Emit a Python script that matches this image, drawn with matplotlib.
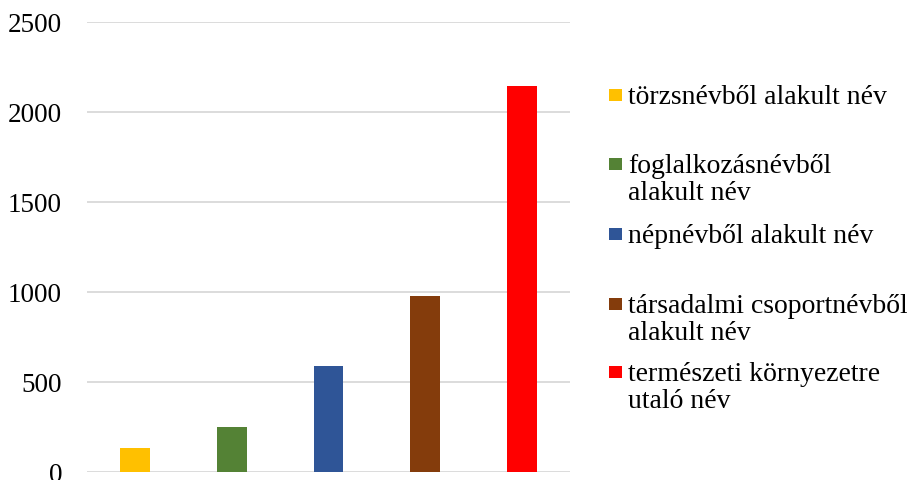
import matplotlib.pyplot as plt
from matplotlib.patches import Rectangle

# categories of names and their counts
labels = ['törzsnévből alakult név',
          'foglalkozásnévből\nalakult név',
          'népnévből alakult név',
          'társadalmi csoportnévből\nalakult név',
          'természeti környezetre\nutaló név']
counts = [135, 250, 590, 980, 2145]
colors = ['#FFC000', '#548235', '#2F5597', '#843C0C', '#FF0000']
yticks = [0, 500, 1000, 1500, 2000, 2500]

plt.rcParams['font.family'] = ['Liberation Serif', 'DejaVu Serif']

W, H = 907, 481
fig = plt.figure(figsize=(W / 100, H / 100), dpi=100)
ax = fig.add_axes([87 / W, 8 / H, (570 - 87) / W, (473 - 23) / H])

x = list(range(len(counts)))
ax.bar(x, counts, width=0.31, color=colors, zorder=3)
ax.set_xlim(-0.5, len(counts) - 0.5)
ax.set_ylim(0, 2500)
ax.set_yticks(yticks)
ax.set_xticks([])
ax.tick_params(axis='y', length=0, pad=18, labelsize=19.5, colors='#000000')
ax.grid(axis='y', color='#d9d9d9', linewidth=1.3, zorder=0)
for s in ax.spines.values():
    s.set_visible(False)

# legend drawn by hand: Excel puts each entry in its own slot, square next to the first line
baselines = [104, 173, 243, 313, 381]
line_gap = 27
for lab, col, yb in zip(labels, colors, baselines):
    fig.add_artist(Rectangle((609 / W, 1 - (yb - 2) / H), 13 / W, 12 / H,
                             facecolor=col, edgecolor='none',
                             transform=fig.transFigure))
    for k, part in enumerate(lab.split('\n')):
        fig.text(628 / W, 1 - (yb + k * line_gap) / H, part, fontsize=20,
                 va='baseline', ha='left')

fig.savefig('out.png', dpi=100)
